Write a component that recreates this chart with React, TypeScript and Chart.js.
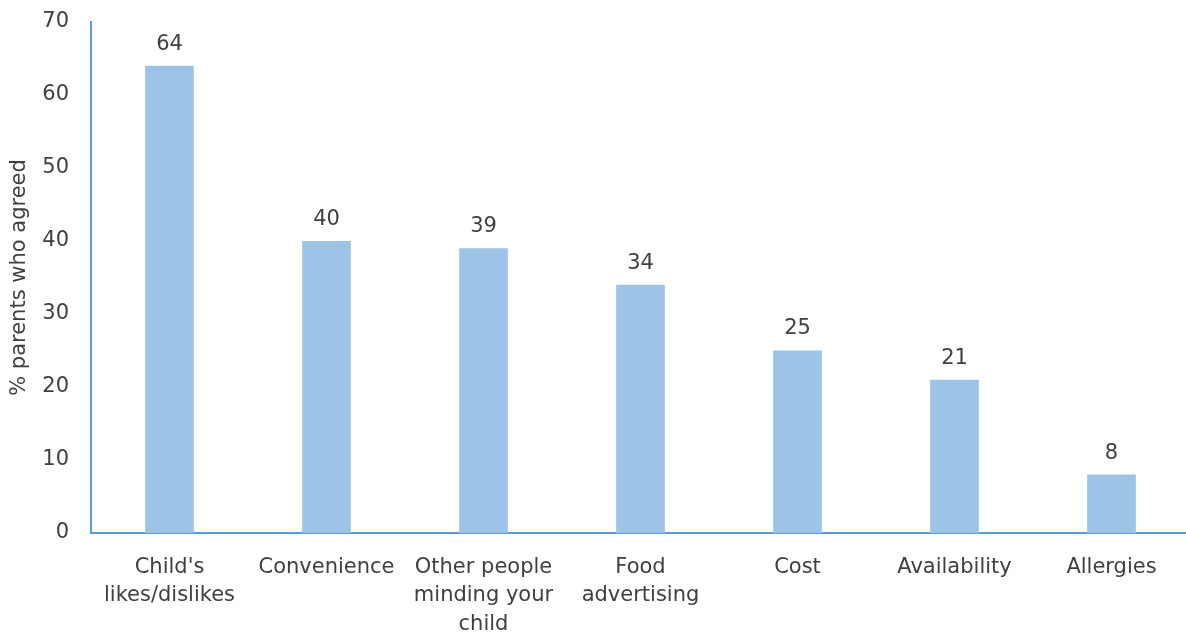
import React, { useEffect, useRef } from "react";
import { Chart, registerables } from "chart.js";

Chart.register(...registerables);

const categories: (string | string[])[] = [
  ["Child's", "likes/dislikes"],
  "Convenience",
  ["Other people", "minding your", "child"],
  ["Food", "advertising"],
  "Cost",
  "Availability",
  "Allergies",
];
const values: number[] = [64, 40, 39, 34, 25, 21, 8];
const yTitle = "% parents who agreed";

const FONT = "'DejaVu Sans', Verdana, sans-serif";
const TEXT = "#404040";
const AXIS = "#5B9BD5";
const BAR = "#9DC3E6";
const FS = 21;

const labelPlugin = {
  id: "barLabels",
  afterDatasetsDraw(chart: any) {
    const ctx = chart.ctx;
    const meta = chart.getDatasetMeta(0);
    ctx.save();
    ctx.font = `${FS}px ${FONT}`;
    ctx.fillStyle = TEXT;
    ctx.textAlign = "center";
    ctx.textBaseline = "bottom";
    meta.data.forEach((bar: any, i: number) => {
      ctx.fillText(String(values[i]), bar.x, bar.y - 11);
    });
    ctx.restore();
  },
};

export default function App() {
  const ref = useRef<HTMLCanvasElement>(null);
  useEffect(() => {
    document.body.style.margin = "0";
    document.body.style.overflow = "hidden";
    const chart = new Chart(ref.current!, {
      type: "bar",
      data: {
        labels: categories,
        datasets: [
          {
            data: values,
            backgroundColor: BAR,
            borderWidth: 0,
            barPercentage: 0.31,
            categoryPercentage: 1,
          },
        ],
      },
      options: {
        animation: false,
        responsive: false,
        maintainAspectRatio: false,
        layout: { padding: { top: 22, right: 0, left: 0, bottom: 0 } },
        plugins: {
          legend: { display: false },
          tooltip: { enabled: false },
        },
        scales: {
          x: {
            grid: { display: false, drawTicks: false },
            border: { display: true, color: AXIS, width: 2 },
            ticks: {
              color: TEXT,
              font: { family: FONT, size: FS, lineHeight: 1.36 },
              padding: 20,
              maxRotation: 0,
              autoSkip: false,
            },
            afterFit: (s: any) => {
              s.height = 102;
            },
          },
          y: {
            min: 0,
            max: 70,
            grid: { display: false, drawTicks: false },
            border: { display: true, color: AXIS, width: 2 },
            ticks: {
              stepSize: 10,
              color: TEXT,
              font: { family: FONT, size: FS },
              padding: 22,
            },
            title: {
              display: true,
              text: yTitle,
              color: TEXT,
              font: { family: FONT, size: FS },
              padding: { top: 7, bottom: 0 },
            },
            afterFit: (s: any) => {
              s.width = 91;
              s.paddingTop = 0;
              s.paddingBottom = 0;
            },
          },
        },
      },
      plugins: [labelPlugin],
    });
    return () => chart.destroy();
  }, []);
  return (
    <div style={{ position: "fixed", left: 0, top: 0, width: 1186, height: 635, overflow: "hidden" }}>
      <canvas ref={ref} width={1190} height={635} style={{ display: "block" }} />
    </div>
  );
}
